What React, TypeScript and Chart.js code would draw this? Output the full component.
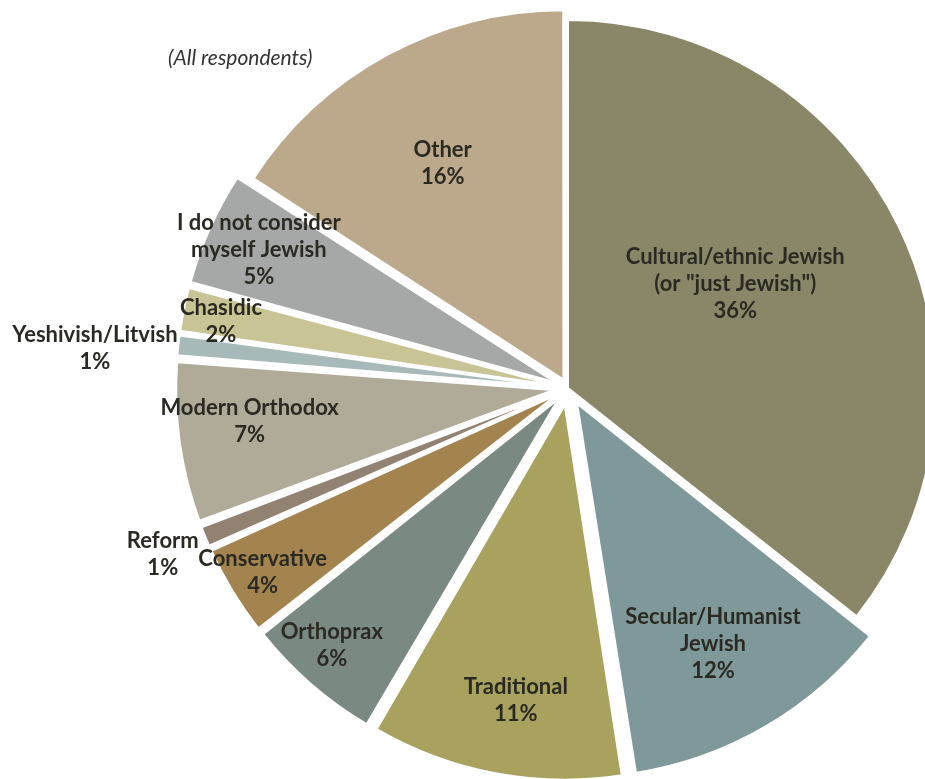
import React, { useEffect, useRef } from "react";
import { Chart, registerables } from "chart.js";

Chart.register(...registerables);

// ---- Data ----
const categories = [
  "Cultural/ethnic Jewish (or \"just Jewish\")",
  "Secular/Humanist Jewish",
  "Traditional",
  "Orthoprax",
  "Conservative",
  "Reform",
  "Modern Orthodox",
  "Yeshivish/Litvish",
  "Chasidic",
  "I do not consider myself Jewish",
  "Other",
];
const labelLines = [
  ["Cultural/ethnic Jewish", "(or \"just Jewish\")"],
  ["Secular/Humanist", "Jewish"],
  ["Traditional"],
  ["Orthoprax"],
  ["Conservative"],
  ["Reform"],
  ["Modern Orthodox"],
  ["Yeshivish/Litvish"],
  ["Chasidic"],
  ["I do not consider", "myself Jewish"],
  ["Other"],
];
const values = [36, 12, 11, 6, 4, 1, 7, 1, 2, 5, 16];
const subtitle = "(All respondents)";

// ---- Styles ----
const colors = [
  "#8A8769",
  "#7F9899",
  "#A8A25E",
  "#7B8983",
  "#A3844F",
  "#928271",
  "#B0AA98",
  "#A7BAB9",
  "#C9C495",
  "#A5A8A6",
  "#BCA98C",
];
// desired outward displacement (px) of each slice
const explode = [0, 24, 24, 24, 24, 24, 24, 24, 24, 24, 11];
// label distance from the pie centre, as a fraction of the radius
const labelRadius = [0.535, 0.8, 0.86, 0.95, 0.97, 1.19, 0.87, 1.29, 0.96, 0.92, 0.7];
// small angular nudges of label placement (degrees, clockwise)
const labelNudge = [-6, 0.8, -1.2, 1.5, 0, 0, 2, -1.4, -0.8, 0, -0.6];
const RADIUS = 368;
const FONT = "Lato, 'Open Sans', sans-serif";
const TEXT_COLOR = "#2b2a22";
const LINE_H = 27;

function arcOffset(displacement: number, value: number, total: number) {
  // Chart.js moves an arc by offset/4 * (1 + fix) outward
  const circ = (value / total) * 2 * Math.PI;
  const fix = 1 - Math.sin(Math.min(Math.PI, circ));
  return (displacement * 4) / (1 + fix);
}

const labelPlugin = {
  id: "sliceLabels",
  afterDatasetsDraw(chart: any) {
    const ctx = chart.ctx;
    const meta = chart.getDatasetMeta(0);
    ctx.save();
    ctx.fillStyle = TEXT_COLOR;
    ctx.textAlign = "center";
    ctx.textBaseline = "middle";
    ctx.font = `bold 22px ${FONT}`;
    meta.data.forEach((arc: any, i: number) => {
      const p = arc.getProps(["x", "y", "startAngle", "endAngle", "outerRadius"], true);
      const mid = (p.startAngle + p.endAngle) / 2 + (labelNudge[i] * Math.PI) / 180;
      const d = p.outerRadius * labelRadius[i];
      const cx = p.x + Math.cos(mid) * d;
      const cy = p.y + Math.sin(mid) * d;
      const lines = [...labelLines[i], `${values[i]}%`];
      const top = cy - ((lines.length - 1) * LINE_H) / 2;
      lines.forEach((ln, k) => ctx.fillText(ln, cx, top + k * LINE_H));
    });
    ctx.font = `italic 21px ${FONT}`;
    ctx.fillStyle = "#333333";
    ctx.textAlign = "left";
    ctx.fillText(subtitle, 168, 58);
    ctx.restore();
  },
};

export default function App() {
  const ref = useRef<HTMLCanvasElement | null>(null);
  useEffect(() => {
    document.body.style.margin = "0";
    const total = values.reduce((a, b) => a + b, 0);
    const chart = new Chart(ref.current as HTMLCanvasElement, {
      type: "pie",
      data: {
        labels: categories,
        datasets: [
          {
            data: values,
            backgroundColor: colors,
            borderColor: "#ffffff",
            borderWidth: 2,
            offset: values.map((v, i) => arcOffset(explode[i], v, total)),
            radius: RADIUS,
            clip: false,
          } as any,
        ],
      },
      options: {
        responsive: false,
        animation: false,
        layout: { padding: { left: 211, right: 0, top: 0, bottom: 3 } },
        plugins: {
          legend: { display: false },
          tooltip: { enabled: false },
        },
      },
      plugins: [labelPlugin],
    });
    return () => chart.destroy();
  }, []);
  return <canvas ref={ref} width={925} height={779} style={{ display: "block" }} />;
}
